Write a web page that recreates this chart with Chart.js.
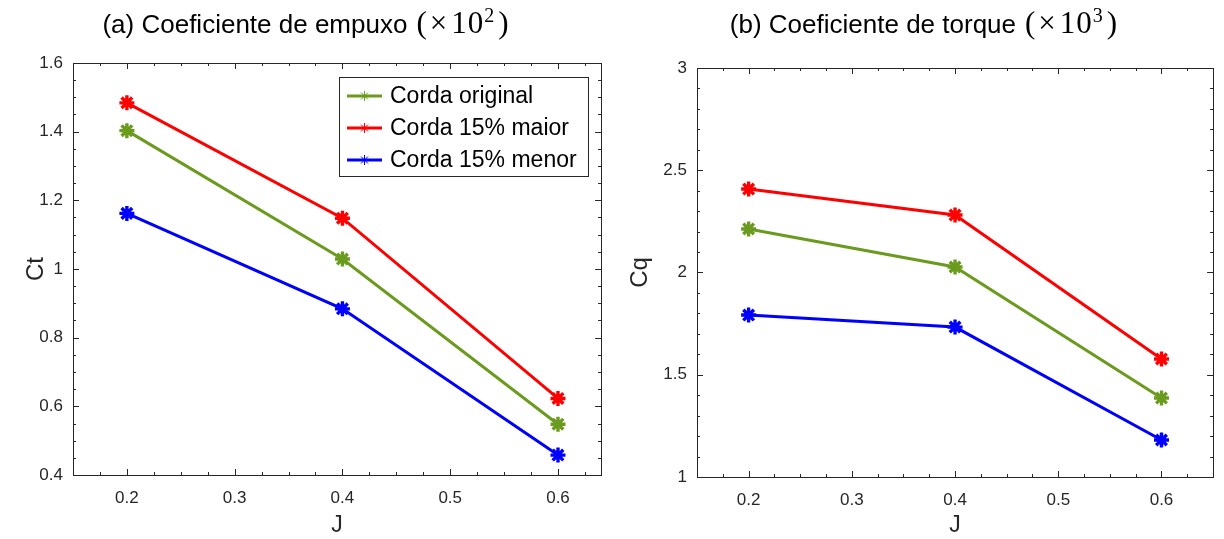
<!DOCTYPE html>
<html>
<head>
<meta charset="utf-8">
<script src="https://cdn.jsdelivr.net/npm/chart.js@4.4.1/dist/chart.umd.min.js"></script>
<style>
  body { margin: 0; background: #fff; }
  #wrap { position: relative; width: 1224px; height: 539px; overflow: hidden; }
  .box { position: absolute; top: 0; width: 612px; height: 539px; }
  .ttl { position: absolute; top: 4px; width: 612px; text-align: center; font-family: "Liberation Sans", Arial, sans-serif; font-size: 26px; color: #000; white-space: nowrap; }
  .ttl .m { font-family: "Liberation Serif", "DejaVu Serif", serif; font-size: 31px; letter-spacing: 1px; margin-left: 9px; }
  .ttl .x { margin: 0 3px 0 2px; }
  .ttl sup { font-size: 20px; margin-right: 3px; }
</style>
</head>
<body>
<div id="wrap">
  <div class="box" style="left:0"><canvas id="chartA" width="612" height="539"></canvas></div>
  <div class="box" style="left:612px"><canvas id="chartB" width="612" height="539"></canvas></div>
  <div class="ttl" style="left:0">(a) Coeficiente de empuxo<span class="m">(<span class="x">×</span>10<sup>2</sup>)</span></div>
  <div class="ttl" style="left:618px">(b) Coeficiente de torque<span class="m">(<span class="x">×</span>10<sup>3</sup>)</span></div>
</div>
<script>
// dados
var jValues = [0.2, 0.4, 0.6];
var ctOriginal = [1.403, 1.029, 0.548];
var ctMaior = [1.484, 1.148, 0.623];
var ctMenor = [1.162, 0.884, 0.458];
var cqOriginal = [2.213, 2.027, 1.386];
var cqMaior = [2.408, 2.281, 1.577];
var cqMenor = [1.792, 1.733, 1.181];
var seriesNames = ["Corda original", "Corda 15% maior", "Corda 15% menor"];
var seriesColors = ["#6b9b1e", "#ff0000", "#0000ff"];
var xTicks = [0.2, 0.3, 0.4, 0.5, 0.6];
var ctTicks = [0.4, 0.6, 0.8, 1, 1.2, 1.4, 1.6];
var cqTicks = [1, 1.5, 2, 2.5, 3];

var axisColor = "#262626";
var fontName = "'Liberation Sans', Arial, sans-serif";

function makeSet(name, color, ys) {
  return {
    label: name,
    data: jValues.map((x, i) => ({x: x, y: ys[i]})),
    borderColor: color,
    backgroundColor: color,
    borderWidth: 3,
    pointStyle: "star",
    pointRadius: 7.5,
    pointBorderWidth: 3.4,
    pointHoverRadius: 7.5,
    tension: 0
  };
}

// ticks para dentro + moldura, estilo matlab
var frameTicks = {
  id: "frameTicks",
  afterDraw(chart, args, opts) {
    var ctx = chart.ctx, a = chart.chartArea;
    var xs = chart.scales.x, ys = chart.scales.y;
    ctx.save();
    ctx.strokeStyle = axisColor;
    ctx.lineWidth = 1;
    ctx.strokeRect(Math.round(a.left) + 0.5, Math.round(a.top) + 0.5, Math.round(a.right - a.left), Math.round(a.bottom - a.top));
    ctx.beginPath();
    for (var v = opts.xMin; v <= opts.xMax + 1e-9; v += opts.xMinor) {
      var px = Math.round(xs.getPixelForValue(v)) + 0.5;
      var major = xTicks.some(t => Math.abs(t - v) < 1e-6);
      var len = major ? 6 : 3;
      ctx.moveTo(px, a.bottom); ctx.lineTo(px, a.bottom - len);
      ctx.moveTo(px, a.top); ctx.lineTo(px, a.top + len);
    }
    for (var w = opts.yMin; w <= opts.yMax + 1e-9; w += opts.yMinor) {
      var py = Math.round(ys.getPixelForValue(w)) + 0.5;
      var maj = opts.yTicks.some(t => Math.abs(t - w) < 1e-6);
      var l2 = maj ? 6 : 3;
      ctx.moveTo(a.left, py); ctx.lineTo(a.left + l2, py);
      ctx.moveTo(a.right, py); ctx.lineTo(a.right - l2, py);
    }
    ctx.stroke();
    ctx.restore();
  }
};

// legenda dentro do grafico (a)
var innerLegend = {
  id: "innerLegend",
  afterDatasetsDraw(chart, args, opts) {
    if (!opts.show) return;
    var ctx = chart.ctx;
    ctx.save();
    ctx.fillStyle = "#fff";
    ctx.fillRect(opts.x, opts.y, opts.w, opts.h);
    ctx.strokeStyle = axisColor;
    ctx.lineWidth = 1;
    ctx.strokeRect(opts.x + 0.5, opts.y + 0.5, opts.w, opts.h);
    ctx.font = "23px " + fontName;
    ctx.textBaseline = "middle";
    chart.data.datasets.forEach((ds, i) => {
      var y = opts.y + 19 + i * 32;
      var x0 = opts.x + 8, x1 = opts.x + 43, xm = (x0 + x1) / 2;
      ctx.strokeStyle = ds.borderColor;
      ctx.lineWidth = 3;
      ctx.beginPath(); ctx.moveTo(x0, y); ctx.lineTo(x1, y); ctx.stroke();
      ctx.lineWidth = 1;
      ctx.beginPath();
      var r = 5;
      ctx.moveTo(xm - r, y); ctx.lineTo(xm + r, y);
      ctx.moveTo(xm, y - r); ctx.lineTo(xm, y + r);
      ctx.moveTo(xm - r * 0.7, y - r * 0.7); ctx.lineTo(xm + r * 0.7, y + r * 0.7);
      ctx.moveTo(xm - r * 0.7, y + r * 0.7); ctx.lineTo(xm + r * 0.7, y - r * 0.7);
      ctx.stroke();
      ctx.fillStyle = "#000";
      ctx.fillText(ds.label, opts.x + 51, y + 1);
    });
    ctx.restore();
  }
};

function buildChart(id, sets, cfg) {
  return new Chart(id, {
    type: "line",
    data: { datasets: sets },
    options: {
      responsive: false,
      animation: false,
      layout: { padding: { left: 0, right: cfg.padRight, top: cfg.padTop, bottom: 0 } },
      plugins: {
        legend: { display: false },
        tooltip: { enabled: false },
        frameTicks: { xMin: 0.15, xMax: cfg.xMax, xMinor: 0.025, yMin: cfg.yMin, yMax: cfg.yMax, yMinor: cfg.yMinor, yTicks: cfg.yTicks },
        innerLegend: cfg.legend
      },
      scales: {
        x: {
          type: "linear",
          min: 0.15,
          max: cfg.xMax,
          grid: { display: false, drawTicks: false },
          border: { display: false },
          afterFit: s => { s.height = cfg.xAxisH; },
          afterBuildTicks: s => { s.ticks = xTicks.map(v => ({value: v})); },
          ticks: { color: axisColor, font: { family: fontName, size: 17 }, padding: 13, maxRotation: 0,
                   callback: v => String(+v.toFixed(2)) },
          title: { display: true, text: "J", color: axisColor, font: { family: fontName, size: 23 }, padding: { top: 0, bottom: 0 } }
        },
        y: {
          min: cfg.yMin,
          max: cfg.yMax,
          grid: { display: false, drawTicks: false },
          border: { display: false },
          afterFit: s => { s.width = cfg.yAxisW; },
          afterBuildTicks: s => { s.ticks = cfg.yTicks.map(v => ({value: v})); },
          ticks: { color: axisColor, font: { family: fontName, size: 17 }, padding: 10,
                   callback: v => String(+v.toFixed(2)) },
          title: { display: true, text: cfg.yTitle, color: axisColor, font: { family: fontName, size: 24 }, padding: { top: cfg.yTitlePad, bottom: 0 } }
        }
      }
    },
    plugins: [frameTicks, innerLegend]
  });
}

var chartA = buildChart("chartA", [
  makeSet(seriesNames[0], seriesColors[0], ctOriginal),
  makeSet(seriesNames[1], seriesColors[1], ctMaior),
  makeSet(seriesNames[2], seriesColors[2], ctMenor)
], {
  padRight: 10, padTop: 63, xAxisH: 64, yAxisW: 73, xMax: 0.64,
  yMin: 0.4, yMax: 1.6, yMinor: 0.05, yTicks: ctTicks, yTitle: "Ct", yTitlePad: 22,
  legend: { show: true, x: 339, y: 77, w: 249, h: 99 }
});

var chartB = buildChart("chartB", [
  makeSet(seriesNames[0], seriesColors[0], cqOriginal),
  makeSet(seriesNames[1], seriesColors[1], cqMaior),
  makeSet(seriesNames[2], seriesColors[2], cqMenor)
], {
  padRight: 3, padTop: 68, xAxisH: 62, yAxisW: 85, xMax: 0.65,
  yMin: 1, yMax: 3, yMinor: 0.1, yTicks: cqTicks, yTitle: "Cq", yTitlePad: 14,
  legend: { show: false }
});
</script>
</body>
</html>
